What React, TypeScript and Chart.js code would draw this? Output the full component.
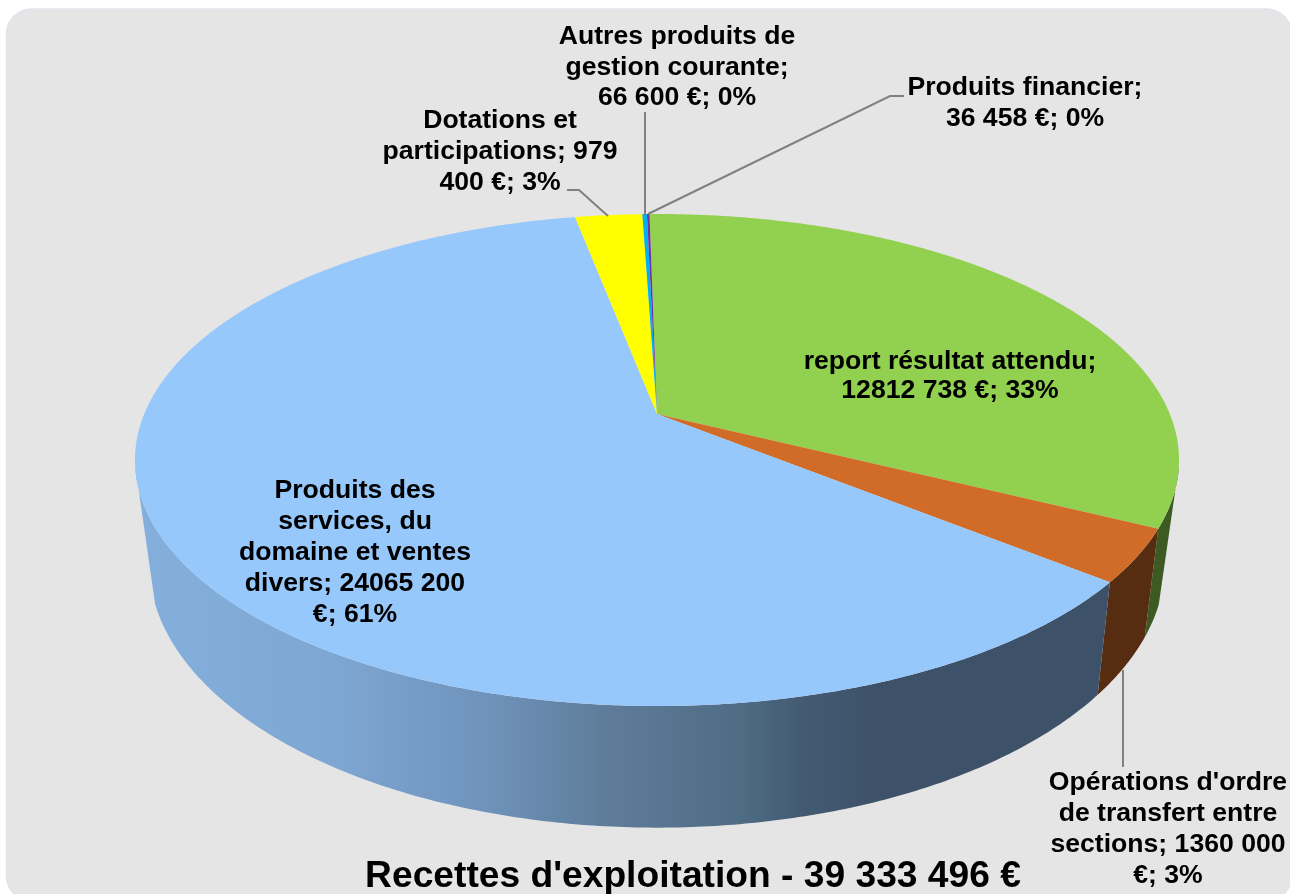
import React, { useEffect, useRef } from "react";
import { Chart, registerables } from "chart.js";

Chart.register(...registerables);

const categories = [
  "report résultat attendu",
  "Opérations d'ordre de transfert entre sections",
  "Produits des services, du domaine et ventes divers",
  "Dotations et participations",
  "Autres produits de gestion courante",
  "Produits financier",
];
const values = [12812738, 1360000, 24065200, 979400, 66600, 36458];
const topColors = ["#92d050", "#d16c28", "#97c8fb", "#ffff00", "#00b0f0", "#7030a0"];
const wallColors = ["#3c5a22", "#562d10", "#3e546c", "#6e6e00", "#004a66", "#2f1444"];
const blueWallStops: [number, string][] = [
  [0.0, "#84afdc"],
  [0.2, "#7ea7d3"],
  [0.36, "#6f93bb"],
  [0.48, "#5f7d9b"],
  [0.625, "#4f6c85"],
  [0.69, "#445a73"],
  [0.77, "#3d5268"],
  [1.0, "#3d5268"],
];
const labelLines = [
  ["report résultat attendu;", "12812 738 €; 33%"],
  ["Opérations d'ordre", "de transfert entre", "sections; 1360 000", "€; 3%"],
  ["Produits des", "services, du", "domaine et ventes", "divers; 24065 200", "€; 61%"],
  ["Dotations et", "participations; 979", "400 €; 3%"],
  ["Autres produits de", "gestion courante;", "66 600 €; 0%"],
  ["Produits financier;", "36 458 €; 0%"],
];
const titleText = "Recettes d'exploitation - 39 333 496 €";

const FONT = '"Liberation Sans", Arial, sans-serif';

// label anchors: centre x, centre y of first line, line step
const labelPlace = [
  [950, 362, 28.5],
  [1168, 783, 31],
  [355, 491, 31],
  [500, 121, 31],
  [677, 37, 30.5],
  [1025, 88, 31],
];
const leaders = [
  [[1123, 670], [1123, 767]],
  [[567, 190], [579, 190], [608, 216]],
  [[645, 112], [645, 215]],
  [[648, 214], [890, 96], [904, 96]],
];

// Perspective mapping of the pie's unit circle on the page
const AX = 657, AY = 414, K = 0.187;
const project = (a: number, A: number, B: number, v0: number) => {
  const x = Math.cos(a), y = Math.sin(a), d = 1 - K * y;
  return [AX + (A * x) / d, AY + v0 + (B * y) / d];
};
const topPt = (a: number) => project(a, 512.8, 237.4, 0);
const botPt = (a: number) => project(a, 499, 255, 100);

// sin(angle) from which the wall's silhouette tangent leaves each rim
const TOP_MIN = 0.2;
const BOT_MIN = 0.33;

const view3d = {
  id: "view3d",
  beforeDraw(chart: any) {
    const c = chart.ctx;
    c.save();
    c.fillStyle = "#e5e5e5";
    c.strokeStyle = "#dfe5ec";
    c.lineWidth = 1.5;
    c.beginPath();
    c.roundRect(6.5, 9, 1285, 892, 25);
    c.fill();
    c.stroke();
    c.restore();
  },
  beforeDatasetDraw(chart: any) {
    const c = chart.ctx;
    const arcs = chart.getDatasetMeta(0).data;
    c.save();
    // walls
    arcs.forEach((arc: any, i: number) => {
      const s = arc.startAngle, e = arc.endAngle;
      const N = Math.max(2, Math.ceil((e - s) / 0.01));
      const ang: number[] = [];
      for (let k = 0; k <= N; k++) ang.push(s + ((e - s) * k) / N);
      const tops = ang.filter((a) => Math.sin(a) >= TOP_MIN);
      const bots = ang.filter((a) => Math.sin(a) >= BOT_MIN);
      if (tops.length < 2 || bots.length < 2) return;
      c.beginPath();
      tops.forEach((a, k) => {
        const p = topPt(a);
        if (k) c.lineTo(p[0], p[1]); else c.moveTo(p[0], p[1]);
      });
      bots.slice().reverse().forEach((a) => {
        const p = botPt(a);
        c.lineTo(p[0], p[1]);
      });
      c.closePath();
      if (i === 2) {
        const g = c.createLinearGradient(140, 0, 1100, 0);
        blueWallStops.forEach(([o, col]) => g.addColorStop(o, col));
        c.fillStyle = g;
      } else {
        c.fillStyle = wallColors[i];
      }
      c.fill();
    });
    // top faces
    arcs.forEach((arc: any) => {
      const s = arc.startAngle, e = arc.endAngle;
      const col = arc.options.backgroundColor;
      const N = Math.max(2, Math.ceil((e - s) / 0.005));
      c.beginPath();
      c.moveTo(AX, AY);
      for (let k = 0; k <= N; k++) {
        const p = topPt(s + ((e - s) * k) / N);
        c.lineTo(p[0], p[1]);
      }
      c.closePath();
      c.fillStyle = col;
      c.fill();
    });
    c.restore();
    return false;
  },
  afterDatasetsDraw(chart: any) {
    const c = chart.ctx;
    c.save();
    c.strokeStyle = "#808080";
    c.lineWidth = 2;
    leaders.forEach((l) => {
      c.beginPath();
      l.forEach((p, k) => (k ? c.lineTo(p[0], p[1]) : c.moveTo(p[0], p[1])));
      c.stroke();
    });
    c.fillStyle = "#000";
    c.font = `bold 26.6px ${FONT}`;
    c.textAlign = "center";
    c.textBaseline = "middle";
    labelLines.forEach((lines, i) => {
      const [x, y, step] = labelPlace[i];
      lines.forEach((t, k) => c.fillText(t, x, y + k * step));
    });
    c.restore();
  },
};

export default function App() {
  const ref = useRef<HTMLCanvasElement>(null);
  useEffect(() => {
    const chart = new Chart(ref.current!, {
      type: "pie",
      data: {
        labels: categories,
        datasets: [{ data: values, backgroundColor: topColors, borderWidth: 0 }],
      },
      options: {
        animation: false,
        responsive: false,
        rotation: -1,
        layout: { padding: { left: 96, right: 0, top: 0, bottom: -5 } },
        plugins: {
          legend: { display: false },
          tooltip: { enabled: false },
          title: {
            display: true,
            text: titleText,
            position: "bottom",
            fullSize: false,
            color: "#000",
            font: { family: FONT, size: 37.2, weight: "bold" },
            padding: { top: 0, bottom: 0 },
          },
        },
      },
      plugins: [view3d],
    } as any);
    return () => chart.destroy();
  }, []);
  return (
    <div style={{ position: "fixed", left: 0, top: 0, width: 1290, height: 894, overflow: "hidden", background: "#fff" }}>
      <canvas ref={ref} width={1290} height={894} style={{ display: "block" }} />
    </div>
  );
}
